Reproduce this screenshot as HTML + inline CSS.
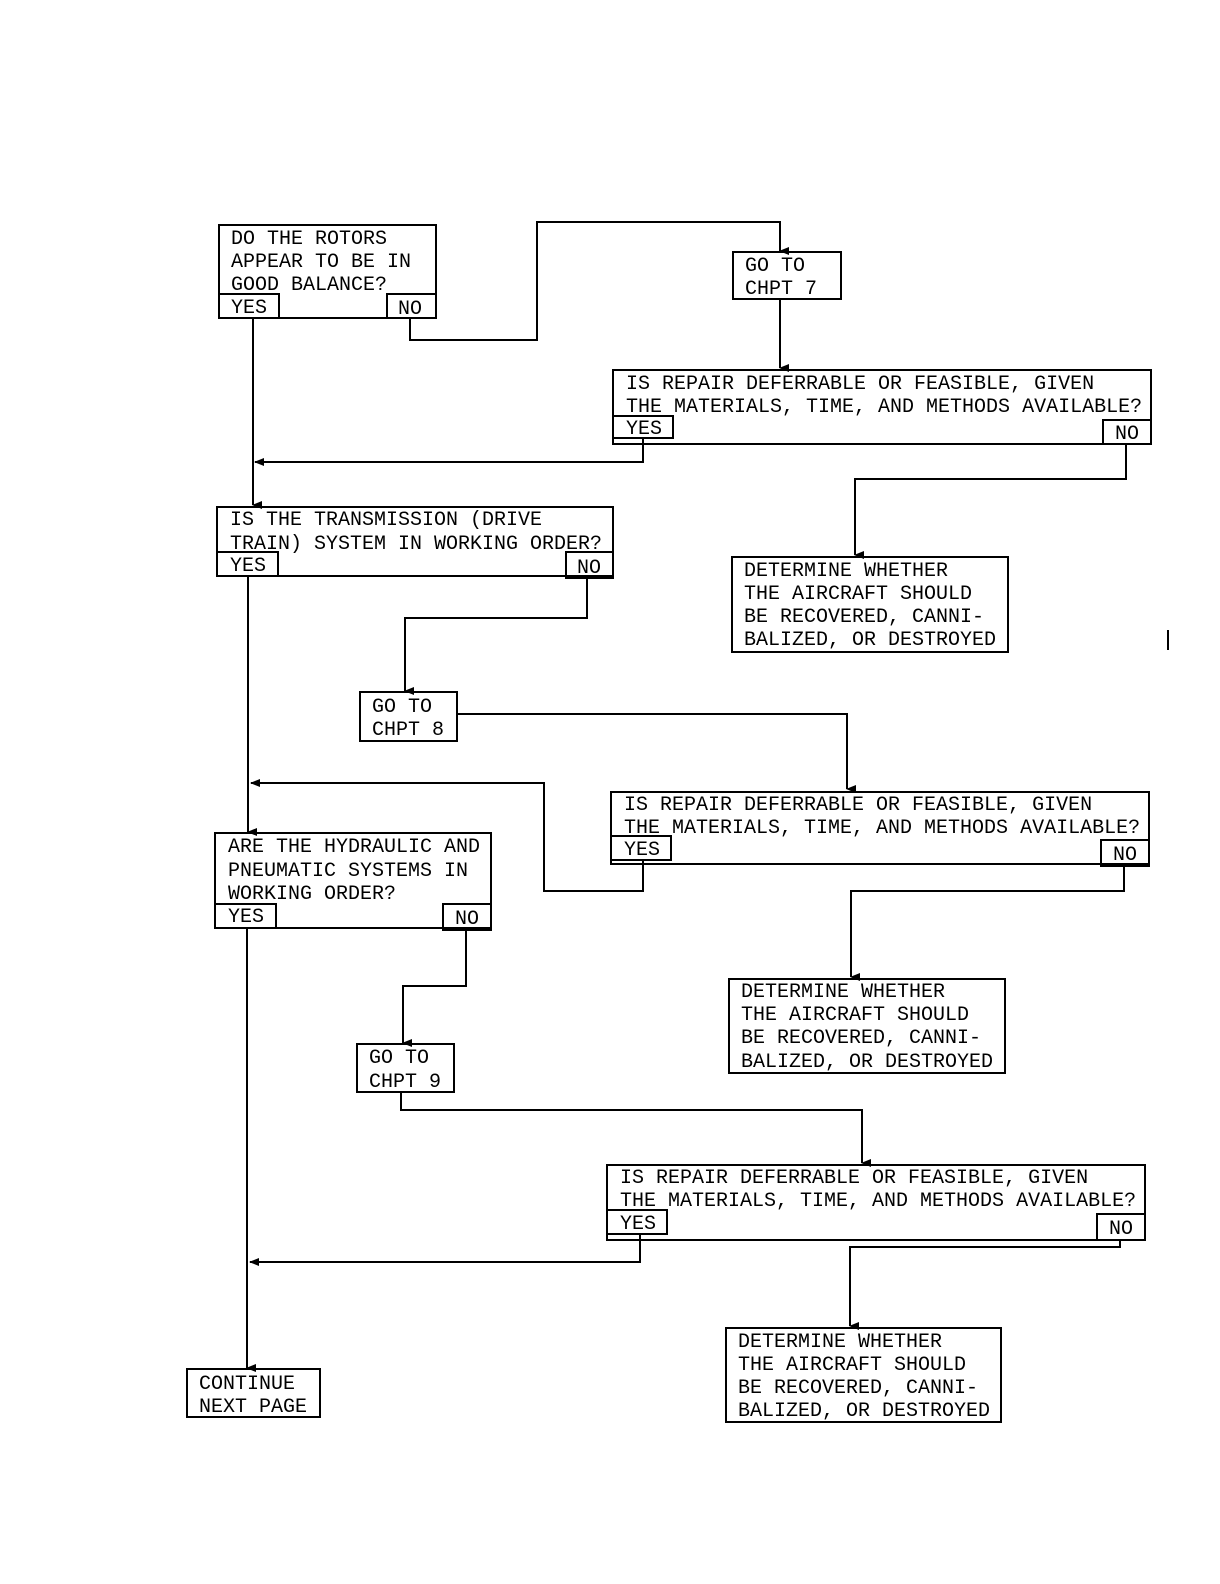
<!DOCTYPE html>
<html><head><meta charset="utf-8"><style>
html,body{margin:0;padding:0;background:#fff;}
svg{display:block;}
text{font-family:"Liberation Mono",monospace;font-size:20px;fill:#000;}
</style></head><body>
<svg width="1220" height="1584" viewBox="0 0 1220 1584" xmlns="http://www.w3.org/2000/svg">
<defs><marker id="a" markerWidth="8" markerHeight="10" refX="4" refY="9" orient="auto-start-reverse" markerUnits="userSpaceOnUse"><path d="M0,0 L8,0 L4,10 Z" fill="#000"/></marker>
<marker id="l" markerWidth="10" markerHeight="8" refX="1" refY="4" orient="0" markerUnits="userSpaceOnUse"><path d="M0,4 L10,0 L10,8 Z" fill="#000"/></marker></defs>
<g fill="none" stroke="#000" stroke-width="2">
<!-- box1 -->
<rect x="219" y="225" width="217" height="93"/><rect x="219" y="294" width="60" height="24"/><rect x="387" y="294" width="49" height="24"/>
<polyline points="410,318 410,340 537,340 537,222 780,222 780,251" marker-end="url(#a)"/>
<rect x="733" y="252" width="108" height="47"/>
<polyline points="780,299 780,368" marker-end="url(#a)"/>
<rect x="613" y="370" width="538" height="74"/><rect x="613" y="416" width="60" height="22"/><rect x="1103" y="420" width="48" height="24"/>
<polyline points="643,438 643,462 255,462" marker-end="url(#l)"/>
<polyline points="1126,444 1126,479 855,479 855,555" marker-end="url(#a)"/>
<rect x="732" y="557" width="276" height="95"/>
<polyline points="253,318 253,505" marker-end="url(#a)"/>
<!-- box3 -->
<rect x="217" y="507" width="396" height="69"/><rect x="217" y="552" width="61" height="24"/><rect x="566" y="552" width="47" height="26"/>
<polyline points="587,578 587,618 405,618 405,691" marker-end="url(#a)"/>
<rect x="360" y="692" width="97" height="49"/>
<polyline points="457,714 847,714 847,789" marker-end="url(#a)"/>
<rect x="611" y="792" width="538" height="72"/><rect x="611" y="836" width="60" height="24"/><rect x="1101" y="840" width="48" height="26"/>
<polyline points="643,860 643,891 544,891 544,783 251,783" marker-end="url(#l)"/>
<polyline points="1124,866 1124,891 851,891 851,977" marker-end="url(#a)"/>
<rect x="729" y="979" width="276" height="94"/>
<polyline points="248,576 248,832" marker-end="url(#a)"/>
<!-- box6 -->
<rect x="215" y="833" width="276" height="95"/><rect x="215" y="904" width="61" height="24"/><rect x="443" y="904" width="48" height="26"/>
<polyline points="466,930 466,986 403,986 403,1043" marker-end="url(#a)"/>
<rect x="357" y="1044" width="97" height="48"/>
<polyline points="401,1092 401,1110 862,1110 862,1163" marker-end="url(#a)"/>
<rect x="607" y="1165" width="538" height="75"/><rect x="607" y="1210" width="60" height="24"/><rect x="1097" y="1214" width="48" height="26"/>
<polyline points="640,1234 640,1262 250,1262" marker-end="url(#l)"/>
<polyline points="1120,1240 1120,1247 850,1247 850,1326" marker-end="url(#a)"/>
<rect x="726" y="1328" width="275" height="94"/>
<polyline points="247,928 247,1368" marker-end="url(#a)"/>
<rect x="187" y="1369" width="133" height="48"/>
<line x1="1168" y1="630" x2="1168" y2="650"/>
</g>
<text x="231" y="244">DO THE ROTORS</text>
<text x="231" y="267">APPEAR TO BE IN</text>
<text x="231" y="290">GOOD BALANCE?</text>
<text x="231" y="313">YES</text><text x="398" y="314">NO</text>
<text x="745" y="271">GO TO</text><text x="745" y="294">CHPT 7</text>
<text x="626" y="389">IS REPAIR DEFERRABLE OR FEASIBLE, GIVEN</text>
<text x="626" y="412">THE MATERIALS, TIME, AND METHODS AVAILABLE?</text>
<text x="626" y="434">YES</text><text x="1115" y="439">NO</text>
<text x="744" y="576">DETERMINE WHETHER</text>
<text x="744" y="599">THE AIRCRAFT SHOULD</text>
<text x="744" y="622">BE RECOVERED, CANNI-</text>
<text x="744" y="645">BALIZED, OR DESTROYED</text>
<text x="230" y="525">IS THE TRANSMISSION (DRIVE</text>
<text x="230" y="549">TRAIN) SYSTEM IN WORKING ORDER?</text>
<text x="230" y="571">YES</text><text x="577" y="573">NO</text>
<text x="372" y="712">GO TO</text><text x="372" y="735">CHPT 8</text>
<text x="624" y="810">IS REPAIR DEFERRABLE OR FEASIBLE, GIVEN</text>
<text x="624" y="833">THE MATERIALS, TIME, AND METHODS AVAILABLE?</text>
<text x="624" y="855">YES</text><text x="1113" y="860">NO</text>
<text x="741" y="997">DETERMINE WHETHER</text>
<text x="741" y="1020">THE AIRCRAFT SHOULD</text>
<text x="741" y="1043">BE RECOVERED, CANNI-</text>
<text x="741" y="1067">BALIZED, OR DESTROYED</text>
<text x="228" y="852">ARE THE HYDRAULIC AND</text>
<text x="228" y="876">PNEUMATIC SYSTEMS IN</text>
<text x="228" y="899">WORKING ORDER?</text>
<text x="228" y="922">YES</text><text x="455" y="924">NO</text>
<text x="369" y="1063">GO TO</text><text x="369" y="1087">CHPT 9</text>
<text x="620" y="1183">IS REPAIR DEFERRABLE OR FEASIBLE, GIVEN</text>
<text x="620" y="1206">THE MATERIALS, TIME, AND METHODS AVAILABLE?</text>
<text x="620" y="1229">YES</text><text x="1109" y="1234">NO</text>
<text x="738" y="1347">DETERMINE WHETHER</text>
<text x="738" y="1370">THE AIRCRAFT SHOULD</text>
<text x="738" y="1393">BE RECOVERED, CANNI-</text>
<text x="738" y="1416">BALIZED, OR DESTROYED</text>
<text x="199" y="1389">CONTINUE</text><text x="199" y="1412">NEXT PAGE</text>
</svg>
</body></html>
